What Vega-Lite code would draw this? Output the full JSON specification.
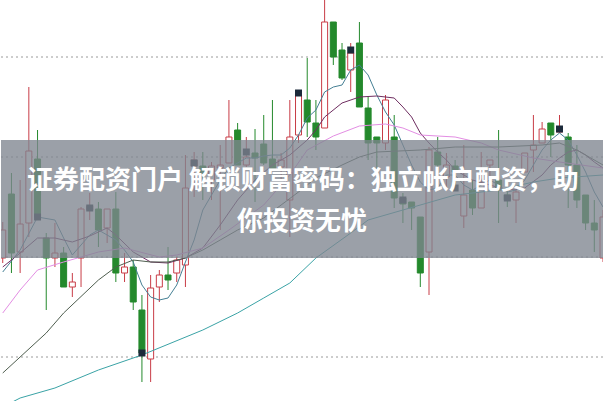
{
  "$schema": "https://vega.github.io/schema/vega-lite/v6.json",
  "width": 604,
  "height": 401,
  "padding": 0,
  "autosize": {"type": "fit", "contains": "padding"},
  "background": "#ffffff",
  "config": {"view": {"stroke": null}, "scale": {"continuousPadding": 0}},
  "datasets": {
    "grid": [{"p": 10}, {"p": 11}, {"p": 12}, {"p": 13}],
    "candles": [
      {"d":0,"o":10.99,"c":11.27,"h":11.35,"l":10.94},
      {"d":1,"o":11.63,"c":11.04,"h":11.84,"l":10.84},
      {"d":2,"o":11.05,"c":11.33,"h":11.77,"l":10.84},
      {"d":3,"o":11.34,"c":12.06,"h":12.70,"l":11.20},
      {"d":4,"o":11.98,"c":11.40,"h":12.27,"l":11.37},
      {"d":5,"o":11.19,"c":10.99,"h":11.24,"l":10.47},
      {"d":6,"o":10.99,"c":11.04,"h":11.34,"l":10.90},
      {"d":7,"o":11.04,"c":10.70,"h":11.10,"l":10.70},
      {"d":8,"o":10.70,"c":10.75,"h":10.84,"l":10.60},
      {"d":9,"o":10.99,"c":11.48,"h":11.50,"l":10.70},
      {"d":10,"o":11.47,"c":11.51,"h":11.64,"l":11.37},
      {"d":11,"o":11.48,"c":11.27,"h":11.55,"l":11.10},
      {"d":12,"o":11.29,"c":11.48,"h":11.48,"l":11.14},
      {"d":13,"o":11.48,"c":10.84,"h":11.65,"l":10.75},
      {"d":14,"o":10.84,"c":10.90,"h":11.04,"l":10.75},
      {"d":15,"o":10.90,"c":10.55,"h":10.97,"l":10.47},
      {"d":16,"o":10.47,"c":10.04,"h":10.62,"l":9.75},
      {"d":17,"o":9.98,"c":10.69,"h":10.82,"l":9.75},
      {"d":18,"o":10.70,"c":10.82,"h":10.87,"l":10.55},
      {"d":19,"o":10.82,"c":10.77,"h":11.10,"l":10.67},
      {"d":20,"o":10.84,"c":10.97,"h":11.00,"l":10.75},
      {"d":21,"o":10.92,"c":11.69,"h":12.02,"l":10.70},
      {"d":22,"o":11.91,"c":11.97,"h":12.05,"l":11.60},
      {"d":23,"o":11.91,"c":11.82,"h":12.05,"l":11.57},
      {"d":24,"o":11.77,"c":11.91,"h":11.95,"l":11.57},
      {"d":25,"o":11.89,"c":11.92,"h":12.12,"l":11.27},
      {"d":26,"o":11.94,"c":12.20,"h":12.57,"l":11.94},
      {"d":27,"o":12.27,"c":11.92,"h":12.34,"l":11.92},
      {"d":28,"o":11.92,"c":12.00,"h":12.20,"l":11.90},
      {"d":29,"o":12.04,"c":11.99,"h":12.28,"l":11.55},
      {"d":30,"o":12.13,"c":11.94,"h":12.42,"l":11.92},
      {"d":31,"o":11.98,"c":11.87,"h":12.57,"l":11.87},
      {"d":32,"o":11.90,"c":11.97,"h":12.04,"l":11.77},
      {"d":33,"o":11.57,"c":12.20,"h":12.57,"l":11.20},
      {"d":34,"o":12.22,"c":12.62,"h":12.67,"l":12.14},
      {"d":35,"o":12.57,"c":12.35,"h":12.99,"l":12.20},
      {"d":36,"o":12.34,"c":12.20,"h":12.57,"l":12.07},
      {"d":37,"o":12.29,"c":13.35,"h":13.62,"l":12.29},
      {"d":38,"o":13.35,"c":13.00,"h":13.35,"l":12.92},
      {"d":39,"o":13.07,"c":12.79,"h":13.14,"l":12.77},
      {"d":40,"o":12.87,"c":13.04,"h":13.14,"l":12.65},
      {"d":41,"o":13.14,"c":12.50,"h":13.35,"l":12.50},
      {"d":42,"o":12.49,"c":12.14,"h":12.60,"l":11.97},
      {"d":43,"o":12.20,"c":12.14,"h":12.20,"l":11.87},
      {"d":44,"o":12.14,"c":12.57,"h":12.62,"l":12.07},
      {"d":45,"o":12.20,"c":11.59,"h":12.42,"l":11.49},
      {"d":46,"o":11.59,"c":11.53,"h":11.64,"l":11.34},
      {"d":47,"o":11.55,"c":11.49,"h":11.55,"l":11.27},
      {"d":48,"o":11.40,"c":10.84,"h":11.40,"l":10.70},
      {"d":49,"o":11.05,"c":12.07,"h":12.10,"l":10.62},
      {"d":50,"o":12.05,"c":11.92,"h":12.20,"l":11.77},
      {"d":51,"o":11.80,"c":11.92,"h":12.04,"l":11.70},
      {"d":52,"o":11.91,"c":11.85,"h":11.97,"l":11.67},
      {"d":53,"o":11.41,"c":11.62,"h":12.12,"l":11.29},
      {"d":54,"o":11.67,"c":11.49,"h":11.77,"l":11.42},
      {"d":55,"o":11.49,"c":11.74,"h":12.05,"l":11.49},
      {"d":56,"o":11.92,"c":11.97,"h":11.97,"l":11.72},
      {"d":57,"o":11.77,"c":11.67,"h":12.27,"l":11.34},
      {"d":58,"o":11.62,"c":11.57,"h":11.67,"l":11.50},
      {"d":59,"o":11.57,"c":11.65,"h":11.70,"l":11.34},
      {"d":60,"o":11.85,"c":12.04,"h":12.04,"l":11.85},
      {"d":61,"o":12.07,"c":12.12,"h":12.42,"l":11.85},
      {"d":62,"o":12.14,"c":12.28,"h":12.35,"l":12.14},
      {"d":63,"o":12.34,"c":12.22,"h":12.34,"l":12.00},
      {"d":64,"o":12.25,"c":12.30,"h":12.42,"l":12.24},
      {"d":65,"o":12.20,"c":11.92,"h":12.24,"l":11.49},
      {"d":66,"o":11.92,"c":11.57,"h":12.12,"l":11.49},
      {"d":67,"o":11.62,"c":11.34,"h":11.62,"l":11.27},
      {"d":68,"o":11.34,"c":11.27,"h":11.57,"l":11.05},
      {"d":69,"o":10.99,"c":11.40,"h":11.47,"l":10.95}
    ],
    "ma": [
      {"s":"MA5","d":0,"v":10.85},{"s":"MA5","d":2,"v":11.07},{"s":"MA5","d":4,"v":11.40},{"s":"MA5","d":6,"v":11.37},
      {"s":"MA5","d":7,"v":11.19},{"s":"MA5","d":8,"v":11.02},{"s":"MA5","d":10,"v":11.22},{"s":"MA5","d":11,"v":11.27},
      {"s":"MA5","d":13,"v":11.17},{"s":"MA5","d":14,"v":11.07},{"s":"MA5","d":15,"v":10.95},{"s":"MA5","d":16,"v":10.72},
      {"s":"MA5","d":17,"v":10.60},{"s":"MA5","d":18,"v":10.57},{"s":"MA5","d":19,"v":10.59},{"s":"MA5","d":20,"v":10.72},
      {"s":"MA5","d":21,"v":10.95},{"s":"MA5","d":22,"v":11.17},{"s":"MA5","d":23,"v":11.47},{"s":"MA5","d":24,"v":11.62},
      {"s":"MA5","d":25,"v":11.77},{"s":"MA5","d":26,"v":11.89},{"s":"MA5","d":27,"v":11.94},{"s":"MA5","d":28,"v":11.99},
      {"s":"MA5","d":29,"v":11.99},{"s":"MA5","d":30,"v":12.01},{"s":"MA5","d":31,"v":12.02},{"s":"MA5","d":32,"v":12.02},
      {"s":"MA5","d":33,"v":12.09},{"s":"MA5","d":34,"v":12.22},{"s":"MA5","d":35,"v":12.39},{"s":"MA5","d":36,"v":12.47},
      {"s":"MA5","d":37,"v":12.65},{"s":"MA5","d":38,"v":12.70},{"s":"MA5","d":39,"v":12.72},{"s":"MA5","d":40,"v":12.87},
      {"s":"MA5","d":41,"v":12.92},{"s":"MA5","d":42,"v":12.82},{"s":"MA5","d":43,"v":12.62},{"s":"MA5","d":44,"v":12.45},
      {"s":"MA5","d":45,"v":12.32},{"s":"MA5","d":46,"v":12.12},{"s":"MA5","d":47,"v":11.92},{"s":"MA5","d":48,"v":11.75},
      {"s":"MA5","d":49,"v":11.67},{"s":"MA5","d":50,"v":11.69},{"s":"MA5","d":51,"v":11.82},{"s":"MA5","d":52,"v":11.82},
      {"s":"MA5","d":53,"v":11.72},{"s":"MA5","d":54,"v":11.67},{"s":"MA5","d":55,"v":11.72},{"s":"MA5","d":56,"v":11.77},
      {"s":"MA5","d":57,"v":11.72},{"s":"MA5","d":58,"v":11.65},{"s":"MA5","d":59,"v":11.67},{"s":"MA5","d":60,"v":11.77},
      {"s":"MA5","d":61,"v":11.92},{"s":"MA5","d":62,"v":12.07},{"s":"MA5","d":63,"v":12.17},{"s":"MA5","d":64,"v":12.24},
      {"s":"MA5","d":65,"v":12.17},{"s":"MA5","d":66,"v":12.02},{"s":"MA5","d":67,"v":11.85},{"s":"MA5","d":68,"v":11.65},
      {"s":"MA5","d":69,"v":11.50},
      {"s":"MA10","d":0,"v":10.90},{"s":"MA10","d":2,"v":11.04},{"s":"MA10","d":4,"v":11.19},{"s":"MA10","d":6,"v":11.19},
      {"s":"MA10","d":8,"v":11.15},{"s":"MA10","d":10,"v":11.21},{"s":"MA10","d":12,"v":11.29},{"s":"MA10","d":13,"v":11.22},
      {"s":"MA10","d":15,"v":11.05},{"s":"MA10","d":17,"v":10.95},{"s":"MA10","d":19,"v":10.94},{"s":"MA10","d":21,"v":10.99},
      {"s":"MA10","d":23,"v":11.09},{"s":"MA10","d":25,"v":11.32},{"s":"MA10","d":27,"v":11.57},{"s":"MA10","d":29,"v":11.77},
      {"s":"MA10","d":31,"v":11.92},{"s":"MA10","d":33,"v":12.02},{"s":"MA10","d":35,"v":12.17},{"s":"MA10","d":36,"v":12.27},
      {"s":"MA10","d":37,"v":12.40},{"s":"MA10","d":39,"v":12.54},{"s":"MA10","d":41,"v":12.60},{"s":"MA10","d":43,"v":12.61},
      {"s":"MA10","d":45,"v":12.59},{"s":"MA10","d":46,"v":12.50},{"s":"MA10","d":47,"v":12.40},{"s":"MA10","d":48,"v":12.24},
      {"s":"MA10","d":49,"v":12.14},{"s":"MA10","d":50,"v":12.05},{"s":"MA10","d":51,"v":11.97},{"s":"MA10","d":52,"v":11.87},
      {"s":"MA10","d":54,"v":11.77},{"s":"MA10","d":56,"v":11.72},{"s":"MA10","d":58,"v":11.67},{"s":"MA10","d":60,"v":11.69},
      {"s":"MA10","d":62,"v":11.82},{"s":"MA10","d":63,"v":11.92},{"s":"MA10","d":64,"v":11.99},{"s":"MA10","d":65,"v":12.05},
      {"s":"MA10","d":66,"v":12.07},{"s":"MA10","d":67,"v":12.02},{"s":"MA10","d":68,"v":11.95},{"s":"MA10","d":69,"v":11.89},
      {"s":"MA20","d":0,"v":10.44},{"s":"MA20","d":2,"v":10.67},{"s":"MA20","d":4,"v":10.87},{"s":"MA20","d":7,"v":10.95},
      {"s":"MA20","d":11,"v":11.05},{"s":"MA20","d":14,"v":11.09},{"s":"MA20","d":18,"v":11.00},{"s":"MA20","d":20,"v":11.02},
      {"s":"MA20","d":23,"v":11.09},{"s":"MA20","d":26,"v":11.27},{"s":"MA20","d":30,"v":11.52},{"s":"MA20","d":33,"v":11.82},
      {"s":"MA20","d":35,"v":12.07},{"s":"MA20","d":38,"v":12.21},{"s":"MA20","d":41,"v":12.31},{"s":"MA20","d":44,"v":12.33},
      {"s":"MA20","d":46,"v":12.29},{"s":"MA20","d":48,"v":12.22},{"s":"MA20","d":52,"v":12.20},{"s":"MA20","d":55,"v":12.14},
      {"s":"MA20","d":57,"v":12.07},{"s":"MA20","d":61,"v":11.99},{"s":"MA20","d":64,"v":11.95},{"s":"MA20","d":69,"v":11.89},
      {"s":"MA30","d":0,"v":9.84},{"s":"MA30","d":5,"v":10.24},{"s":"MA30","d":7,"v":10.44},{"s":"MA30","d":11,"v":10.77},
      {"s":"MA30","d":13,"v":10.90},{"s":"MA30","d":15,"v":10.97},{"s":"MA30","d":17,"v":10.95},{"s":"MA30","d":19,"v":10.95},
      {"s":"MA30","d":21,"v":10.99},{"s":"MA30","d":23,"v":11.07},{"s":"MA30","d":25,"v":11.17},{"s":"MA30","d":27,"v":11.27},
      {"s":"MA30","d":30,"v":11.39},{"s":"MA30","d":32,"v":11.52},{"s":"MA30","d":34,"v":11.65},{"s":"MA30","d":36,"v":11.79},
      {"s":"MA30","d":39,"v":11.92},{"s":"MA30","d":41,"v":12.00},{"s":"MA30","d":43,"v":12.05},{"s":"MA30","d":48,"v":12.07},
      {"s":"MA30","d":52,"v":12.10},{"s":"MA30","d":57,"v":12.10},{"s":"MA30","d":62,"v":12.12},{"s":"MA30","d":64,"v":12.14},
      {"s":"MA30","d":66,"v":12.07},{"s":"MA30","d":69,"v":11.92},
      {"s":"MA60","d":0,"v":9.50},{"s":"MA60","d":2,"v":9.59},{"s":"MA60","d":6,"v":9.69},{"s":"MA60","d":11,"v":9.87},
      {"s":"MA60","d":16,"v":10.02},{"s":"MA60","d":23,"v":10.27},{"s":"MA60","d":27,"v":10.44},{"s":"MA60","d":30,"v":10.59},
      {"s":"MA60","d":33,"v":10.74},{"s":"MA60","d":36,"v":10.99},{"s":"MA60","d":40,"v":11.24},{"s":"MA60","d":42,"v":11.37},
      {"s":"MA60","d":46,"v":11.47},{"s":"MA60","d":52,"v":11.62},{"s":"MA60","d":57,"v":11.67},{"s":"MA60","d":61,"v":11.75},
      {"s":"MA60","d":64,"v":11.79},{"s":"MA60","d":69,"v":11.82}
    ],
    "flags": [
      {"d":4,"p":11.40},{"d":10,"p":11.49},{"d":16,"p":10.04},{"d":22,"p":11.94},
      {"d":28,"p":12.05},{"d":34,"p":12.64},{"d":40,"p":13.07},{"d":46,"p":11.57},
      {"d":52,"p":11.69},{"d":58,"p":11.59},{"d":64,"p":12.28}
    ]
  },
  "layer": [
    {
      "data": {"name": "grid"},
      "mark": {"type": "rule", "strokeDash": [2, 3], "color": "#9a9a9a", "strokeWidth": 1},
      "encoding": {
        "y": {"field": "p", "type": "quantitative", "scale": {"domain": [9.56, 13.57], "nice": false, "zero": false, "padding": 0}, "axis": null}
      }
    },
    {
      "data": {"name": "candles"},
      "mark": {"type": "rule", "strokeWidth": 1, "clip": true},
      "encoding": {
        "x": {"field": "d", "type": "quantitative", "scale": {"domain": [-0.2, 69], "nice": false, "zero": false, "padding": 0}, "axis": null},
        "y": {"field": "l", "type": "quantitative", "scale": {"domain": [9.56, 13.57], "nice": false, "zero": false, "padding": 0}, "axis": null},
        "y2": {"field": "h"},
        "stroke": {"condition": {"test": "datum.c >= datum.o", "value": "#c83c46"}, "value": "#24892c"}
      }
    },
    {
      "data": {"name": "candles"},
      "mark": {"type": "bar", "size": 6, "strokeWidth": 1, "clip": true},
      "encoding": {
        "x": {"field": "d", "type": "quantitative", "scale": {"domain": [-0.2, 69], "nice": false, "zero": false, "padding": 0}, "axis": null},
        "y": {"field": "o", "type": "quantitative", "scale": {"domain": [9.56, 13.57], "nice": false, "zero": false, "padding": 0}, "axis": null},
        "y2": {"field": "c"},
        "fill": {"condition": {"test": "datum.c >= datum.o", "value": "#ffffff"}, "value": "#24892c"},
        "stroke": {"condition": {"test": "datum.c >= datum.o", "value": "#c83c46"}, "value": "#24892c"}
      }
    },
    {
      "data": {"name": "ma"},
      "mark": {"type": "line", "strokeWidth": 1, "clip": true},
      "encoding": {
        "x": {"field": "d", "type": "quantitative", "scale": {"domain": [-0.2, 69], "nice": false, "zero": false, "padding": 0}, "axis": null},
        "y": {"field": "v", "type": "quantitative", "scale": {"domain": [9.56, 13.57], "nice": false, "zero": false, "padding": 0}, "axis": null},
        "color": {"field": "s", "type": "nominal", "legend": null,
          "scale": {"domain": ["MA5", "MA10", "MA20", "MA30", "MA60"], "range": ["#457f94", "#6e2d60", "#e38de3", "#4f5e4f", "#3aa3a6"]}},
        "detail": {"field": "s"}
      }
    },
    {
      "data": {"name": "flags"},
      "mark": {"type": "point", "shape": "square", "filled": true, "size": 49, "color": "#1c2a3a", "opacity": 1},
      "encoding": {
        "x": {"field": "d", "type": "quantitative", "scale": {"domain": [-0.2, 69], "nice": false, "zero": false, "padding": 0}, "axis": null},
        "y": {"field": "p", "type": "quantitative", "scale": {"domain": [9.56, 13.57], "nice": false, "zero": false, "padding": 0}, "axis": null}
      }
    },
    {
      "data": {"values": [{}]},
      "mark": {"type": "rect", "fill": "#7f8590", "opacity": 0.78},
      "encoding": {
        "x": {"datum": -0.2, "type": "quantitative", "scale": {"domain": [-0.2, 69], "nice": false, "zero": false, "padding": 0}, "axis": null},
        "x2": {"datum": 69},
        "y": {"datum": 12.17, "type": "quantitative", "scale": {"domain": [9.56, 13.57], "nice": false, "zero": false, "padding": 0}, "axis": null},
        "y2": {"datum": 10.99}
      }
    },
    {
      "data": {"values": [{}]},
      "mark": {"type": "text", "text": "证券配资门户 解锁财富密码：独立帐户配资，助", "align": "center", "baseline": "middle",
        "font": "Noto Sans CJK SC", "fontSize": 26, "fontWeight": "bold", "fill": "#ffffff"},
      "encoding": {
        "x": {"datum": 34.5, "type": "quantitative", "scale": {"domain": [-0.2, 69], "nice": false, "zero": false, "padding": 0}, "axis": null},
        "y": {"datum": 11.76, "type": "quantitative", "scale": {"domain": [9.56, 13.57], "nice": false, "zero": false, "padding": 0}, "axis": null}
      }
    },
    {
      "data": {"values": [{}]},
      "mark": {"type": "text", "text": "你投资无忧", "align": "center", "baseline": "middle",
        "font": "Noto Sans CJK SC", "fontSize": 26, "fontWeight": "bold", "fill": "#ffffff"},
      "encoding": {
        "x": {"datum": 34.4, "type": "quantitative", "scale": {"domain": [-0.2, 69], "nice": false, "zero": false, "padding": 0}, "axis": null},
        "y": {"datum": 11.35, "type": "quantitative", "scale": {"domain": [9.56, 13.57], "nice": false, "zero": false, "padding": 0}, "axis": null}
      }
    }
  ]
}
